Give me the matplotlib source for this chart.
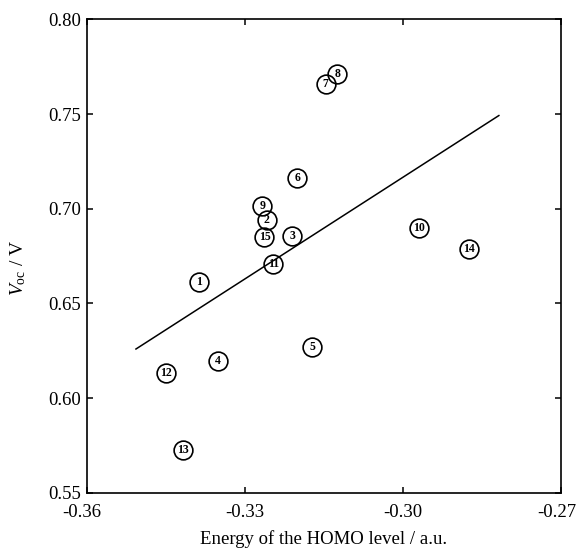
import matplotlib
matplotlib.use("Agg")
import matplotlib.pyplot as plt
import matplotlib.transforms as mtransforms
import numpy as np

plt.rcParams['font.family'] = ['Liberation Serif', 'DejaVu Serif']
plt.rcParams['mathtext.fontset'] = 'custom'
plt.rcParams['mathtext.rm'] = 'Liberation Serif'
plt.rcParams['mathtext.it'] = 'Liberation Serif:italic'

# Compound numbers, HOMO energies (a.u.) and open-circuit voltages (V)
compound_ids = [1, 2, 3, 4, 5, 6, 7, 8, 9, 10, 11, 12, 13, 14, 15]
homo_energy = [-0.3388, -0.3259, -0.3210, -0.3351, -0.3172, -0.3201, -0.3147, -0.3125,
               -0.3267, -0.2969, -0.3246, -0.3450, -0.3417, -0.2875, -0.3263]
voc = [0.6615, 0.6941, 0.6856, 0.6196, 0.6272, 0.7161, 0.7659, 0.7712,
       0.7015, 0.6897, 0.6708, 0.6134, 0.5726, 0.6786, 0.6853]

# Linear trend line end points
fit_x = [-0.3507, -0.2818]
fit_y = [0.6259, 0.7492]

x_ticks = [-0.36, -0.33, -0.30, -0.27]
y_ticks = [0.55, 0.60, 0.65, 0.70, 0.75, 0.80]

fig = plt.figure(figsize=(5.76, 5.53), dpi=100)
ax = fig.add_axes([0.151, 0.109, 0.823, 0.856])

ax.plot(fit_x, fit_y, color='black', lw=1.1, zorder=2)

for cid, x, y in zip(compound_ids, homo_energy, voc):
    ax.plot(x, y, marker='o', markersize=13.5, markerfacecolor='none',
            markeredgecolor='black', markeredgewidth=1.2, zorder=3)
    ax.text(x, y, str(cid), ha='center', va='center', fontsize=8.5,
            fontweight='bold', zorder=4)

ax.set_xlim(-0.36, -0.27)
ax.set_ylim(0.55, 0.80)
ax.set_xticks(x_ticks)
ax.set_yticks(y_ticks)
ax.set_xticklabels([f"{v:.2f}" for v in x_ticks])
ax.set_yticklabels([f"{v:.2f}" for v in y_ticks])
ax.tick_params(direction='in', top=True, right=True, length=4, width=1.1,
               labelsize=13.5)
ax.tick_params(axis='x', pad=8)
ax.tick_params(axis='y', pad=4)

# nudge the two end labels of the x axis to the left
ticks = ax.xaxis.get_major_ticks()
for tick, dx in ((ticks[0], -3.6), (ticks[-1], -3.0)):
    lab = tick.label1
    lab.set_transform(lab.get_transform()
                      + mtransforms.ScaledTranslation(dx / 72, 0, fig.dpi_scale_trans))

for s in ax.spines.values():
    s.set_linewidth(1.2)

ax.set_xlabel('Energy of the HOMO level / a.u.', fontsize=13.5, labelpad=7)
ax.set_ylabel(r'$V_{\rm oc}$ / V', fontsize=14)
ax.yaxis.set_label_coords(-0.125, 0.476)

fig.savefig('out.png', dpi=100)
